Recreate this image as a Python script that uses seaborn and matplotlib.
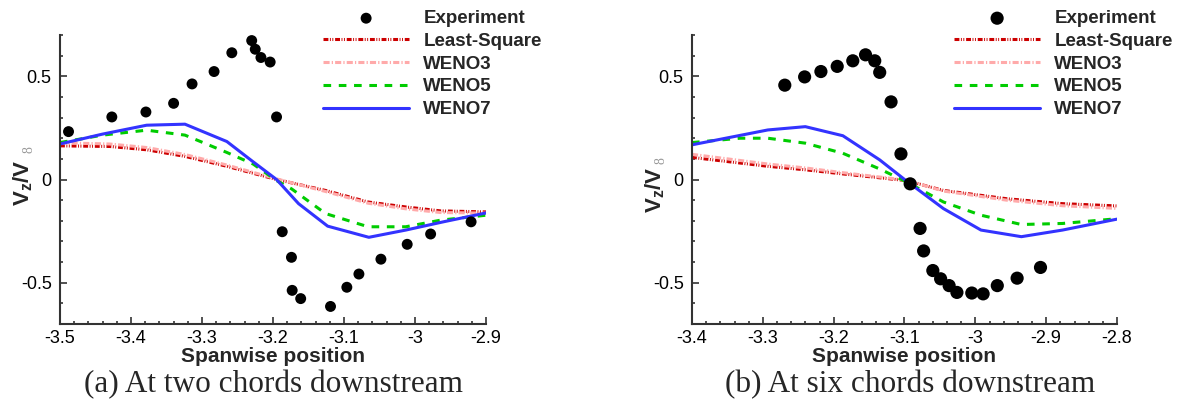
import matplotlib
matplotlib.use("Agg")
import matplotlib.pyplot as plt
import seaborn as sns
import pandas as pd
from matplotlib.ticker import MultipleLocator, FuncFormatter

# ---------------- data: panel (a) two chords downstream ----------------
a_exp_x = [-3.488, -3.427, -3.379, -3.340, -3.314, -3.283, -3.258, -3.230, -3.225, -3.217,
           -3.204, -3.195, -3.187, -3.174, -3.173, -3.161, -3.119, -3.096, -3.079, -3.048,
           -3.011, -2.978, -2.921]
a_exp_y = [0.232, 0.303, 0.327, 0.369, 0.463, 0.523, 0.614, 0.673, 0.631, 0.591,
           0.569, 0.303, -0.253, -0.377, -0.537, -0.577, -0.615, -0.522, -0.458, -0.386,
           -0.314, -0.264, -0.205]
a_ls_x = [-3.5, -3.43, -3.378, -3.324, -3.265, -3.195, -3.126, -3.066, -3.013, -2.964, -2.9]
a_ls_y = [0.163, 0.160, 0.144, 0.112, 0.064, 0.000, -0.053, -0.109, -0.133, -0.152, -0.157]
a_w3_y = [0.178, 0.172, 0.155, 0.121, 0.070, 0.003, -0.058, -0.115, -0.142, -0.160, -0.163]
a_w5_x = [-3.5, -3.44, -3.378, -3.324, -3.265, -3.228, -3.195, -3.174, -3.126, -3.066, -3.013, -2.964, -2.9]
a_w5_y = [0.179, 0.215, 0.239, 0.215, 0.131, 0.075, -0.005, -0.045, -0.165, -0.229, -0.229, -0.197, -0.173]
a_w7_x = [-3.5, -3.44, -3.378, -3.324, -3.265, -3.23, -3.195, -3.164, -3.123, -3.065, -3.013, -2.96, -2.9]
a_w7_y = [0.172, 0.220, 0.263, 0.268, 0.184, 0.091, 0.000, -0.117, -0.226, -0.280, -0.245, -0.205, -0.162]

# ---------------- data: panel (b) six chords downstream ----------------
b_exp_x = [-3.269, -3.241, -3.218, -3.195, -3.173, -3.155, -3.142, -3.135, -3.119, -3.105,
           -3.092, -3.078, -3.073, -3.060, -3.049, -3.037, -3.026, -3.005, -2.989, -2.969,
           -2.941, -2.908]
b_exp_y = [0.457, 0.497, 0.523, 0.548, 0.575, 0.604, 0.575, 0.519, 0.376, 0.124,
           -0.021, -0.237, -0.346, -0.441, -0.481, -0.514, -0.547, -0.550, -0.554, -0.514,
           -0.478, -0.426]
b_ls_x = [-3.4, -3.293, -3.240, -3.187, -3.098, -3.045, -2.956, -2.877, -2.8]
b_ls_y = [0.107, 0.064, 0.047, 0.027, -0.005, -0.053, -0.093, -0.117, -0.128]
b_w3_y = [0.122, 0.075, 0.056, 0.033, -0.003, -0.056, -0.100, -0.127, -0.140]
b_w5_x = [-3.4, -3.332, -3.293, -3.240, -3.187, -3.135, -3.098, -3.045, -2.992, -2.935, -2.877, -2.8]
b_w5_y = [0.179, 0.200, 0.200, 0.176, 0.127, 0.051, -0.010, -0.109, -0.173, -0.218, -0.213, -0.190]
b_w7_x = [-3.4, -3.293, -3.240, -3.187, -3.135, -3.098, -3.045, -2.992, -2.935, -2.877, -2.8]
b_w7_y = [0.168, 0.240, 0.256, 0.212, 0.095, -0.005, -0.141, -0.245, -0.277, -0.245, -0.192]

labels = ["Experiment", "Least-Square", "WENO3", "WENO5", "WENO7"]
x_ticks_a = [-3.5, -2.9]
x_ticks_b = [-3.4, -2.8]
captions = ["(a) At two chords downstream", "(b) At six chords downstream"]

# ---------------- style ----------------
sns.set_style("ticks")
plt.rcParams["font.family"] = ["Liberation Sans", "DejaVu Sans"]
plt.rcParams["axes.unicode_minus"] = False
plt.rcParams["mathtext.fontset"] = "custom"
plt.rcParams["mathtext.bf"] = "Liberation Sans:bold"
plt.rcParams["mathtext.rm"] = "Liberation Sans"
plt.rcParams["mathtext.it"] = "Liberation Sans:italic"

W, H = 1179, 403
fig = plt.figure(figsize=(W / 100, H / 100), dpi=100)

C_LS, C_W3, C_W5, C_W7 = "#cc0000", "#ffaaaa", "#00cc00", "#3333ff"
LS_STYLE = (0, (1.6, 0.5, 0.3, 0.5, 0.3, 0.6))
W3_STYLE = (0, (2.0, 0.7, 0.4, 0.7))
W5_STYLE = (0, (2.5, 2.5))


def panel(rect, exp_x, exp_y, ls_x, ls_y, w3_y, w5_x, w5_y, w7_x, w7_y, xlim,
          msize, leg_x, ylab_y, eight_xy):
    ax = fig.add_axes(rect)
    sns.lineplot(x=ls_x, y=ls_y, ax=ax, color=C_LS, lw=2.2, linestyle=LS_STYLE,
                 sort=False, estimator=None, label=labels[1])
    sns.lineplot(x=ls_x, y=w3_y, ax=ax, color=C_W3, lw=2.2, linestyle=W3_STYLE,
                 sort=False, estimator=None, label=labels[2])
    sns.lineplot(x=w5_x, y=w5_y, ax=ax, color=C_W5, lw=2.2, linestyle=W5_STYLE,
                 sort=False, estimator=None, label=labels[3])
    sns.lineplot(x=w7_x, y=w7_y, ax=ax, color=C_W7, lw=2.2, linestyle="-",
                 sort=False, estimator=None, label=labels[4])
    sns.scatterplot(x=exp_x, y=exp_y, ax=ax, color="black", s=msize, edgecolor="none",
                    zorder=5, label=labels[0])
    ax.set_xlim(*xlim)
    ax.set_ylim(-0.7, 0.7)
    ax.xaxis.set_major_locator(MultipleLocator(0.1))
    ax.xaxis.set_minor_locator(MultipleLocator(0.02))
    ax.yaxis.set_major_locator(MultipleLocator(0.5))
    ax.yaxis.set_minor_locator(MultipleLocator(0.1))
    fmt = FuncFormatter(lambda v, p: "%g" % round(v, 3))
    ax.xaxis.set_major_formatter(fmt)
    ax.yaxis.set_major_formatter(fmt)
    ax.tick_params(which="both", direction="in", top=False, right=False,
                   colors="#333333", labelcolor="black", labelsize=13, width=1.2)
    ax.tick_params(which="major", length=5, pad=4)
    ax.tick_params(which="minor", length=2.5)
    ax.tick_params(axis="y", which="major", pad=6)
    for s in ["top", "right"]:
        ax.spines[s].set_visible(False)
    for s in ["left", "bottom"]:
        ax.spines[s].set_color("#333333")
        ax.spines[s].set_linewidth(1.5)
    ax.set_xlabel("Spanwise position", fontsize=15, fontweight="bold", labelpad=0)
    ax.set_ylabel(r"$\mathbf{V_z/V}$", fontsize=16)
    ax.yaxis.set_label_coords(-0.058, ylab_y)
    ax.text(eight_xy[0], eight_xy[1], "8", transform=ax.transAxes, rotation=90,
            ha="center", va="center", fontsize=10, color="#999999",
            family="Liberation Serif")
    h, l = ax.get_legend_handles_labels()
    order = [l.index(k) for k in labels]
    ax.legend([h[i] for i in order], [l[i] for i in order], loc="upper left",
              bbox_to_anchor=(leg_x / W, 1 - 10 / H), bbox_transform=fig.transFigure,
              frameon=False, borderpad=0, borderaxespad=0, handlelength=4.6,
              handletextpad=0.75, labelspacing=0.3,
              prop={"weight": "bold", "size": 13.5, "family": "Liberation Sans"})
    return ax


ax1 = panel([60 / W, 1 - 324 / H, 426 / W, 289 / H], a_exp_x, a_exp_y, a_ls_x, a_ls_y,
            a_w3_y, a_w5_x, a_w5_y, a_w7_x, a_w7_y, x_ticks_a, 62, 323, 0.49,
            (-0.073, 0.605))
ax2 = panel([692 / W, 1 - 324 / H, 425 / W, 289 / H], b_exp_x, b_exp_y, b_ls_x, b_ls_y,
            b_w3_y, b_w5_x, b_w5_y, b_w7_x, b_w7_y, x_ticks_b, 90, 954, 0.465,
            (-0.073, 0.567))

fig.text(273 / W, 1 - 385 / H, captions[0], ha="center", va="center",
         fontsize=22.5, family="Liberation Serif")
fig.text(910 / W, 1 - 385 / H, captions[1], ha="center", va="center",
         fontsize=22.5, family="Liberation Serif")

fig.savefig("out.png", dpi=100)
